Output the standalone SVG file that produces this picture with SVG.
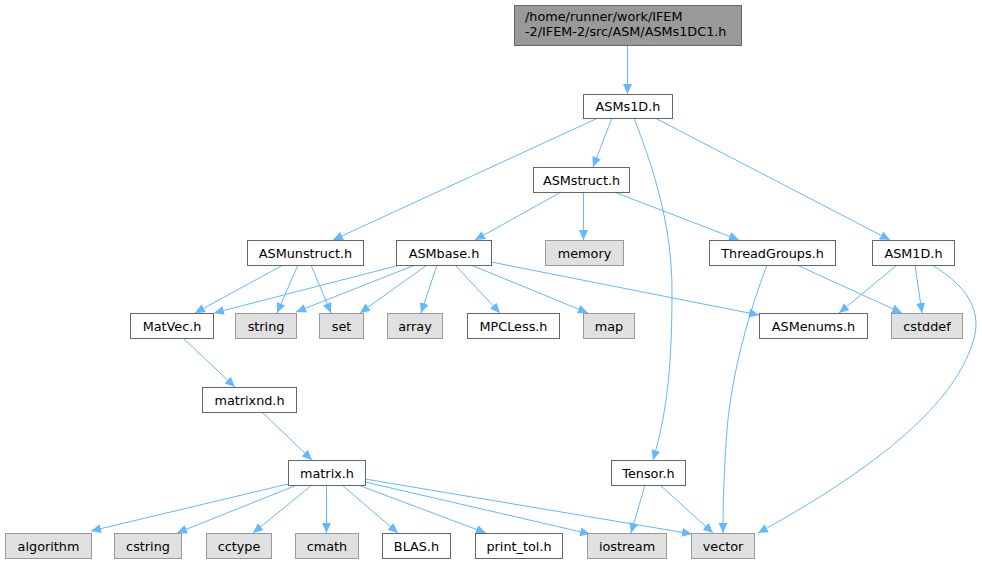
<svg xmlns="http://www.w3.org/2000/svg" width="982" height="564" viewBox="0 0 982 564">
<defs>
<marker id="ah" markerUnits="userSpaceOnUse" markerWidth="11" markerHeight="9" refX="10" refY="4.5" orient="auto">
<path d="M0,0 L10,4.5 L0,9 z" fill="#63b8ff"/>
</marker>
<style>
.e{fill:none;stroke:#63b8ff;stroke-width:1;marker-end:url(#ah)}
.w{fill:#ffffff;stroke:#666666;stroke-width:1}
.g{fill:#e0e0e0;stroke:#999999;stroke-width:1}
.d{fill:#999999;stroke:#666666;stroke-width:1}
text{font-family:"DejaVu Sans",sans-serif;font-size:12.8px;fill:#000000}
.c{text-anchor:middle}
</style>
</defs>
<rect width="982" height="564" fill="#ffffff"/>
<g id="edges">
<path class="e" d="M627.5,45 L627.5,94"/>
<path class="e" d="M598,118 L333,240"/>
<path class="e" d="M612,118 L593,167"/>
<path class="e" d="M634,118 C650,160 672,220 672,290 C672,360 668,410 653,460"/>
<path class="e" d="M655,118 L890,240"/>
<path class="e" d="M561,192 L475,240"/>
<path class="e" d="M583.5,192 L583.5,240"/>
<path class="e" d="M614,192 L739,240"/>
<path class="e" d="M283,265 L195,313"/>
<path class="e" d="M298,265 L277,313"/>
<path class="e" d="M311,265 L331,313"/>
<path class="e" d="M400,265 L214,313"/>
<path class="e" d="M415,265 L296,312"/>
<path class="e" d="M427,265 L360,313"/>
<path class="e" d="M437,265 L421,313"/>
<path class="e" d="M455,265 L500,313"/>
<path class="e" d="M471,265 L588,313"/>
<path class="e" d="M491,262 L759,315"/>
<path class="e" d="M797,265 L902,313"/>
<path class="e" d="M767,265 C750,310 732,370 727,430 C724,470 723,500 723,533"/>
<path class="e" d="M897,265 L839,313"/>
<path class="e" d="M915,265 L922,313"/>
<path class="e" d="M932,265 C965,285 985,310 972,345 C955,395 900,455 758,533"/>
<path class="e" d="M183,338 L235,387"/>
<path class="e" d="M262,412 L312,460"/>
<path class="e" d="M288,484 L91,531"/>
<path class="e" d="M297,485 L177,533"/>
<path class="e" d="M312,485 L253,533"/>
<path class="e" d="M326.5,485 L326.5,533"/>
<path class="e" d="M342,485 L398,533"/>
<path class="e" d="M358,485 L486,533"/>
<path class="e" d="M365,482 L590,534"/>
<path class="e" d="M365,479 L692,534"/>
<path class="e" d="M645,485 L631,533"/>
<path class="e" d="M660,485 L713,533"/>
</g>
<g id="n_top"><rect class="d" x="514.5" y="5.5" width="227" height="40"/><text x="525" y="21">/home/runner/work/IFEM</text><text x="525" y="36">-2/IFEM-2/src/ASM/ASMs1DC1.h</text></g>
<g id="n_ASMs1D"><rect class="w" x="583.5" y="94.5" width="89" height="24"/><text class="c" x="628" y="111">ASMs1D.h</text></g>
<g id="n_ASMstruct"><rect class="w" x="533.5" y="167.5" width="96" height="25"/><text class="c" x="581.5" y="184.5">ASMstruct.h</text></g>
<g id="n_ASMunstruct"><rect class="w" x="247.5" y="240.5" width="116" height="25"/><text class="c" x="305.5" y="257.5">ASMunstruct.h</text></g>
<g id="n_ASMbase"><rect class="w" x="396.5" y="240.5" width="95" height="25"/><text class="c" x="444" y="257.5">ASMbase.h</text></g>
<g id="n_memory"><rect class="g" x="545.5" y="240.5" width="78" height="25"/><text class="c" x="584.5" y="257.5">memory</text></g>
<g id="n_ThreadGroups"><rect class="w" x="709.5" y="240.5" width="126" height="25"/><text class="c" x="772.5" y="257.5">ThreadGroups.h</text></g>
<g id="n_ASM1D"><rect class="w" x="872.5" y="240.5" width="82" height="25"/><text class="c" x="913.5" y="257.5">ASM1D.h</text></g>
<g id="n_MatVec"><rect class="w" x="130.5" y="313.5" width="83" height="25"/><text class="c" x="172" y="330.5">MatVec.h</text></g>
<g id="n_string"><rect class="g" x="235.5" y="313.5" width="61" height="25"/><text class="c" x="266" y="330.5">string</text></g>
<g id="n_set"><rect class="g" x="319.5" y="313.5" width="44" height="25"/><text class="c" x="341.5" y="330.5">set</text></g>
<g id="n_array"><rect class="g" x="387.5" y="313.5" width="55" height="25"/><text class="c" x="415" y="330.5">array</text></g>
<g id="n_MPCLess"><rect class="w" x="467.5" y="313.5" width="92" height="25"/><text class="c" x="513.5" y="330.5">MPCLess.h</text></g>
<g id="n_map"><rect class="g" x="583.5" y="313.5" width="51" height="25"/><text class="c" x="609" y="330.5">map</text></g>
<g id="n_ASMenums"><rect class="w" x="759.5" y="313.5" width="108" height="25"/><text class="c" x="813.5" y="330.5">ASMenums.h</text></g>
<g id="n_cstddef"><rect class="g" x="891.5" y="313.5" width="71" height="25"/><text class="c" x="927" y="330.5">cstddef</text></g>
<g id="n_matrixnd"><rect class="w" x="202.5" y="387.5" width="94" height="25"/><text class="c" x="249.5" y="404.5">matrixnd.h</text></g>
<g id="n_matrix"><rect class="w" x="288.5" y="460.5" width="77" height="25"/><text class="c" x="327" y="477.5">matrix.h</text></g>
<g id="n_Tensor"><rect class="w" x="611.5" y="460.5" width="74" height="25"/><text class="c" x="648.5" y="477.5">Tensor.h</text></g>
<g id="n_algorithm"><rect class="g" x="5.5" y="533.5" width="86" height="25"/><text class="c" x="48.5" y="550.5">algorithm</text></g>
<g id="n_cstring"><rect class="g" x="114.5" y="533.5" width="67" height="25"/><text class="c" x="148" y="550.5">cstring</text></g>
<g id="n_cctype"><rect class="g" x="206.5" y="533.5" width="65" height="25"/><text class="c" x="239" y="550.5">cctype</text></g>
<g id="n_cmath"><rect class="g" x="295.5" y="533.5" width="63" height="25"/><text class="c" x="327" y="550.5">cmath</text></g>
<g id="n_BLAS"><rect class="w" x="382.5" y="533.5" width="68" height="25"/><text class="c" x="416.5" y="550.5">BLAS.h</text></g>
<g id="n_print_tol"><rect class="w" x="475.5" y="533.5" width="87" height="25"/><text class="c" x="519" y="550.5">print_tol.h</text></g>
<g id="n_iostream"><rect class="g" x="587.5" y="533.5" width="79" height="25"/><text class="c" x="627" y="550.5">iostream</text></g>
<g id="n_vector"><rect class="g" x="691.5" y="533.5" width="63" height="25"/><text class="c" x="723" y="550.5">vector</text></g>
</svg>
